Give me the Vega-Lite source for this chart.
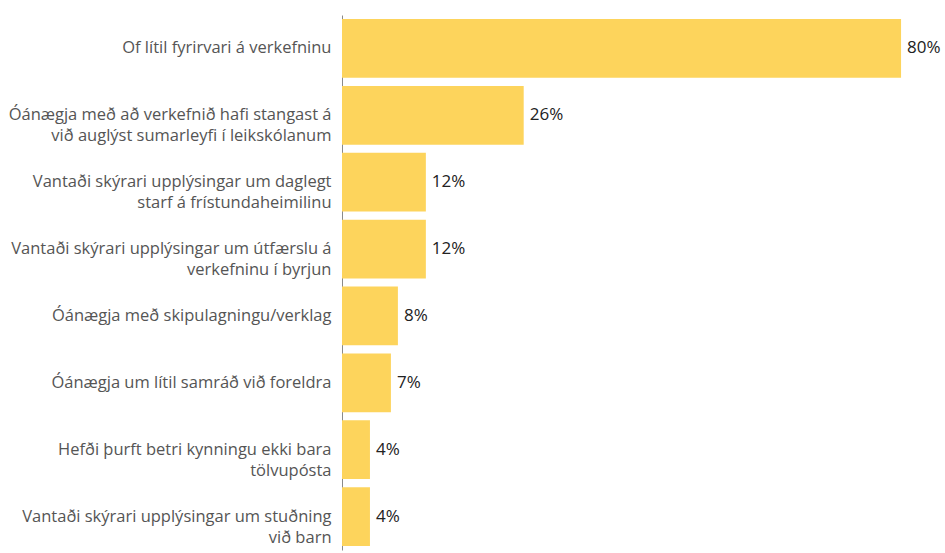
{
  "$schema": "https://vega.github.io/schema/vega-lite/v6.json",
  "width": 594,
  "height": 535,
  "autosize": {"type": "none"},
  "padding": {"left": 342, "top": 15, "right": 9, "bottom": 3},
  "background": "white",
  "config": {"view": {"stroke": null}, "font": "Open Sans"},
  "data": {"values": [
    {"reason": "Of lítil fyrirvari á verkefninu", "share": 0.80},
    {"reason": "Óánægja með að verkefnið hafi stangast á|við auglýst sumarleyfi í leikskólanum", "share": 0.26},
    {"reason": "Vantaði skýrari upplýsingar um daglegt|starf á frístundaheimilinu", "share": 0.12},
    {"reason": "Vantaði skýrari upplýsingar um útfærslu á|verkefninu í byrjun", "share": 0.12},
    {"reason": "Óánægja með skipulagningu/verklag", "share": 0.08},
    {"reason": "Óánægja um lítil samráð við foreldra", "share": 0.07},
    {"reason": "Hefði þurft betri kynningu ekki bara|tölvupósta", "share": 0.04},
    {"reason": "Vantaði skýrari upplýsingar um stuðning|við barn", "share": 0.04}
  ]},
  "encoding": {
    "y": {
      "field": "reason", "type": "nominal", "sort": null,
      "scale": {"paddingInner": 0.12, "paddingOuter": 0.06},
      "axis": {
        "title": null, "ticks": false, "domainColor": "#8a8a8a", "domainWidth": 1,
        "labelExpr": "split(datum.value, '|')",
        "labelFontSize": 16.5, "labelColor": "#555555", "labelPadding": 11,
        "labelLineHeight": 21, "labelLimit": 400
      }
    },
    "x": {
      "field": "share", "type": "quantitative",
      "scale": {"domain": [0, 0.85], "nice": false},
      "axis": null
    }
  },
  "layer": [
    {"mark": {"type": "bar", "color": "#FDD45C"}},
    {"mark": {"type": "text", "align": "left", "dx": 6, "fontSize": 17, "fontWeight": 500, "color": "#222222"},
     "encoding": {"text": {"field": "share", "type": "quantitative", "format": ".0%"}}}
  ]
}
